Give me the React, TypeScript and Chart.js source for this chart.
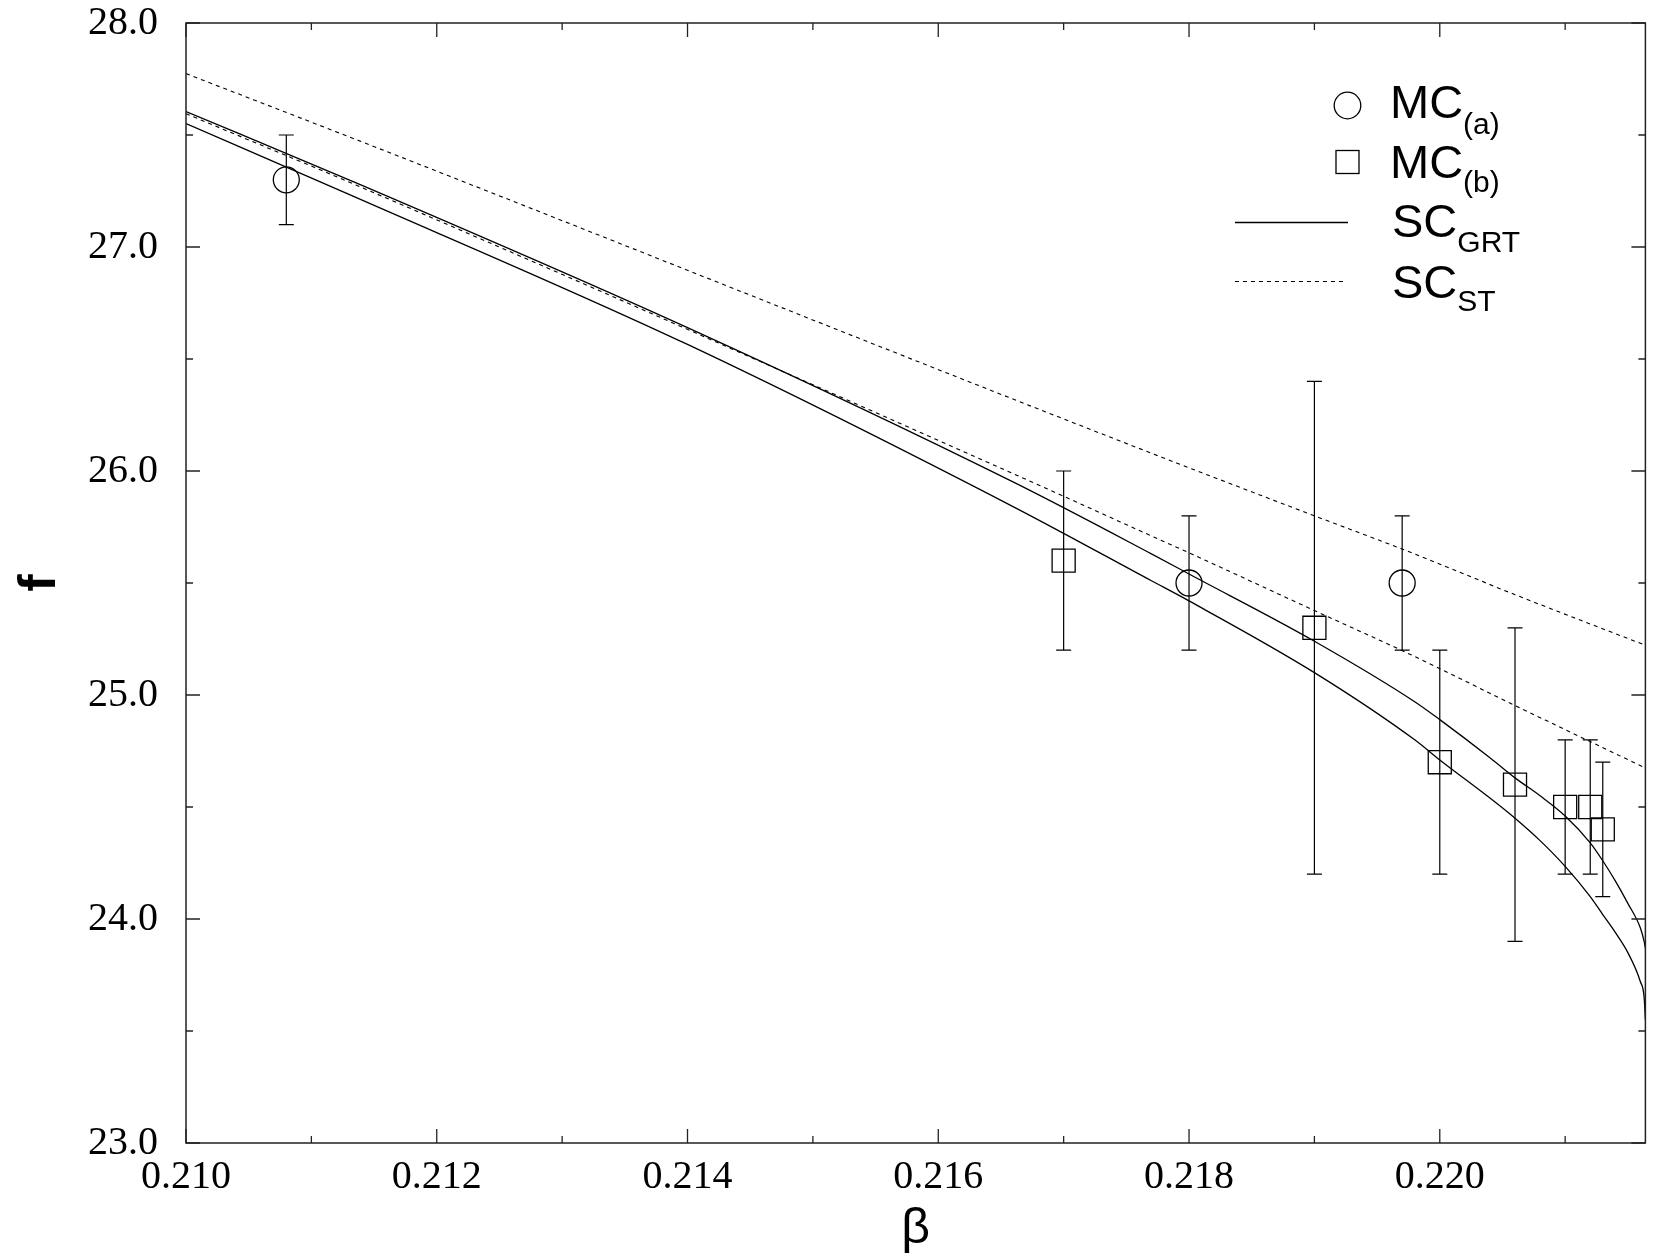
import React, { useEffect, useRef } from 'react';
import { Chart, registerables } from 'chart.js';

Chart.register(...registerables);

// ---- Data ----
const mcaBeta = [0.2108, 0.218, 0.2197];
const mcaF = [27.3, 25.5, 25.5];
const mcaErr = [0.2, 0.3, 0.3];

const mcbBeta = [0.217, 0.219, 0.22, 0.2206, 0.221, 0.2212, 0.2213];
const mcbF = [25.6, 25.3, 24.7, 24.6, 24.5, 24.5, 24.4];
const mcbErr = [0.4, 1.1, 0.5, 0.7, 0.3, 0.3, 0.3];

const grtUpperBeta = [0.21, 0.2113, 0.214, 0.2166, 0.2177, 0.218, 0.219, 0.2198, 0.22, 0.2204, 0.2206, 0.2208, 0.221, 0.2212, 0.2213, 0.2214, 0.2215, 0.2216, 0.22163, 0.22164];
const grtUpperF = [27.605, 27.3, 26.64, 25.95, 25.63, 25.54, 25.24, 24.97, 24.89, 24.72, 24.63, 24.55, 24.46, 24.34, 24.26, 24.17, 24.07, 23.96, 23.9, 23.87];

const grtLowerBeta = [0.21, 0.2113, 0.214, 0.2166, 0.2177, 0.218, 0.219, 0.2198, 0.22, 0.2204, 0.2206, 0.2208, 0.221, 0.2212, 0.2213, 0.2214, 0.2215, 0.2216, 0.22163, 0.22164];
const grtLowerF = [27.551, 27.235, 26.565, 25.84, 25.51, 25.42, 25.1, 24.8, 24.71, 24.54, 24.45, 24.35, 24.235, 24.1, 24.02, 23.94, 23.85, 23.72, 23.65, 23.55];

const stUpperBeta = [0.21, 0.21146, 0.21772, 0.219, 0.21978, 0.2206, 0.22164];
const stUpperF = [27.774, 27.457, 26.075, 25.8, 25.634, 25.448, 25.222];

const stLowerBeta = [0.21, 0.21035, 0.2113, 0.21661, 0.21772, 0.21803, 0.219, 0.21978, 0.2206, 0.22164];
const stLowerF = [27.595, 27.513, 27.29, 25.985, 25.705, 25.627, 25.377, 25.177, 24.953, 24.674];

const xMajorTicks = [0.21, 0.212, 0.214, 0.216, 0.218, 0.22];
const xMinorTicks = [0.211, 0.213, 0.215, 0.217, 0.219, 0.221];
const yMajorTicks = [23, 24, 25, 26, 27, 28];
const yMinorTicks = [23.5, 24.5, 25.5, 26.5, 27.5];

const xMin = 0.21;
const xMax = 0.22164;
const yMin = 23;
const yMax = 28;

const xTitle = 'β';
const yTitle = 'f';

const SANS = '"Liberation Sans", Arial, Helvetica, sans-serif';
const SERIF = '"Liberation Serif", "Times New Roman", Times, serif';

const pts = (xs: number[], ys: number[]) => xs.map((x, i) => ({ x, y: ys[i] }));

const zeroPad = (s: any) => {
  s.paddingTop = 0;
  s.paddingBottom = 0;
  s.paddingLeft = 0;
  s.paddingRight = 0;
};

const spacerAxis = (position: string, size: number) => ({
  type: 'linear',
  position,
  min: 0,
  max: 1,
  display: true,
  grid: { display: false, drawTicks: false },
  border: { display: false },
  ticks: { display: false },
  afterFit: (s: any) => {
    if (position === 'top' || position === 'bottom') s.height = size;
    else s.width = size;
    zeroPad(s);
  },
});

const decorPlugin = {
  id: 'decor',
  afterDatasetsDraw(chart: any) {
    const { ctx, scales } = chart;
    const x = scales.x;
    const y = scales.y;
    const bars: [number, number, number][] = [
      ...mcaBeta.map((b, i) => [b, mcaF[i], mcaErr[i]] as [number, number, number]),
      ...mcbBeta.map((b, i) => [b, mcbF[i], mcbErr[i]] as [number, number, number]),
    ];
    ctx.save();
    ctx.strokeStyle = '#000';
    ctx.lineWidth = 1.2;
    for (const [b, f, e] of bars) {
      const px = x.getPixelForValue(b);
      const t = y.getPixelForValue(f + e);
      const bt = y.getPixelForValue(f - e);
      ctx.beginPath();
      ctx.moveTo(px, t);
      ctx.lineTo(px, bt);
      ctx.moveTo(px - 7.5, t);
      ctx.lineTo(px + 7.5, t);
      ctx.moveTo(px - 7.5, bt);
      ctx.lineTo(px + 7.5, bt);
      ctx.stroke();
    }
    ctx.restore();
  },
  afterDraw(chart: any) {
    const { ctx, chartArea: a, scales } = chart;
    const x = scales.x;
    const y = scales.y;
    ctx.save();
    // frame
    ctx.strokeStyle = '#222';
    ctx.lineWidth = 1.5;
    ctx.strokeRect(a.left, a.top, a.right - a.left, a.bottom - a.top);
    // ticks (inward on all sides)
    ctx.lineWidth = 1.3;
    ctx.beginPath();
    const xt = (vals: number[], len: number) => {
      for (const v of vals) {
        const p = x.getPixelForValue(v);
        ctx.moveTo(p, a.bottom);
        ctx.lineTo(p, a.bottom - len);
        ctx.moveTo(p, a.top);
        ctx.lineTo(p, a.top + len);
      }
    };
    const yt = (vals: number[], len: number) => {
      for (const v of vals) {
        const p = y.getPixelForValue(v);
        ctx.moveTo(a.left, p);
        ctx.lineTo(a.left + len, p);
        ctx.moveTo(a.right, p);
        ctx.lineTo(a.right - len, p);
      }
    };
    xt(xMajorTicks, 14);
    xt(xMinorTicks, 7);
    yt(yMajorTicks, 14);
    yt(yMinorTicks, 7);
    ctx.stroke();

    // axis titles
    ctx.fillStyle = '#000';
    ctx.font = `50px ${SANS}`;
    ctx.textAlign = 'center';
    ctx.textBaseline = 'alphabetic';
    ctx.fillText(xTitle, (a.left + a.right) / 2, 1243);
    ctx.save();
    ctx.translate(55, (a.top + a.bottom) / 2);
    ctx.rotate(-Math.PI / 2);
    ctx.font = `bold 52px ${SANS}`;
    ctx.fillText(yTitle, 0, 0);
    ctx.restore();

    // legend
    ctx.strokeStyle = '#000';
    ctx.lineWidth = 1.3;
    ctx.beginPath();
    ctx.arc(1347.5, 105.5, 13.3, 0, Math.PI * 2);
    ctx.stroke();
    ctx.strokeRect(1336, 150.5, 23, 23);
    ctx.beginPath();
    ctx.moveTo(1235, 222.5);
    ctx.lineTo(1348, 222.5);
    ctx.stroke();
    ctx.setLineDash([4, 4]);
    ctx.lineWidth = 1.1;
    ctx.beginPath();
    ctx.moveTo(1235, 281.5);
    ctx.lineTo(1343, 281.5);
    ctx.stroke();
    ctx.setLineDash([]);

    const label = (main: string, sub: string, lx: number, base: number, subBase: number) => {
      ctx.textAlign = 'left';
      ctx.textBaseline = 'alphabetic';
      ctx.font = `47px ${SANS}`;
      ctx.fillText(main, lx, base);
      const w = ctx.measureText(main).width;
      ctx.font = `30px ${SANS}`;
      ctx.fillText(sub, lx + w, subBase);
    };
    label('MC', '(a)', 1390, 118, 133.5);
    label('MC', '(b)', 1390, 177.5, 192);
    label('SC', 'GRT', 1392, 237, 252);
    label('SC', 'ST', 1392, 297.5, 310.5);
    ctx.restore();
  },
};

export default function App() {
  const ref = useRef<HTMLCanvasElement | null>(null);
  useEffect(() => {
    if (!ref.current) return;
    const chart = new Chart(ref.current, {
      type: 'scatter',
      data: {
        datasets: [
          {
            label: 'SC_GRT upper',
            data: pts(grtUpperBeta, grtUpperF),
            showLine: true,
            borderColor: '#000',
            borderWidth: 1.3,
            pointRadius: 0,
            cubicInterpolationMode: 'monotone',
          },
          {
            label: 'SC_GRT lower',
            data: pts(grtLowerBeta, grtLowerF),
            showLine: true,
            borderColor: '#000',
            borderWidth: 1.3,
            pointRadius: 0,
            cubicInterpolationMode: 'monotone',
          },
          {
            label: 'SC_ST upper',
            data: pts(stUpperBeta, stUpperF),
            showLine: true,
            borderColor: '#000',
            borderWidth: 1.1,
            borderDash: [4, 4],
            pointRadius: 0,
            cubicInterpolationMode: 'monotone',
          },
          {
            label: 'SC_ST lower',
            data: pts(stLowerBeta, stLowerF),
            showLine: true,
            borderColor: '#000',
            borderWidth: 1.1,
            borderDash: [4, 4],
            pointRadius: 0,
            cubicInterpolationMode: 'monotone',
          },
          {
            label: 'MC(a)',
            data: pts(mcaBeta, mcaF),
            pointStyle: 'circle',
            pointRadius: 13,
            pointBorderWidth: 1.3,
            pointBorderColor: '#000',
            pointBackgroundColor: 'rgba(0,0,0,0)',
            showLine: false,
          },
          {
            label: 'MC(b)',
            data: pts(mcbBeta, mcbF),
            pointStyle: 'rect',
            pointRadius: 16.3,
            pointBorderWidth: 1.3,
            pointBorderColor: '#000',
            pointBackgroundColor: 'rgba(0,0,0,0)',
            showLine: false,
          },
        ],
      },
      options: {
        animation: false,
        responsive: false,
        devicePixelRatio: 1,
        layout: { padding: 0 },
        plugins: { legend: { display: false }, tooltip: { enabled: false } },
        scales: {
          x: {
            type: 'linear',
            position: 'bottom',
            min: xMin,
            max: xMax,
            afterBuildTicks: (s: any) => {
              s.ticks = xMajorTicks.map((v) => ({ value: v }));
            },
            afterFit: (s: any) => {
              s.height = 116;
              zeroPad(s);
            },
            grid: { display: false, drawTicks: false },
            border: { display: false },
            ticks: {
              autoSkip: false,
              maxRotation: 0,
              padding: 10,
              color: '#000',
              font: { family: SERIF, size: 40 },
              callback: (v: any) => Number(v).toFixed(3),
            },
          },
          y: {
            type: 'linear',
            position: 'left',
            min: yMin,
            max: yMax,
            afterBuildTicks: (s: any) => {
              s.ticks = yMajorTicks.map((v) => ({ value: v }));
            },
            afterFit: (s: any) => {
              s.width = 186;
              zeroPad(s);
            },
            grid: { display: false, drawTicks: false },
            border: { display: false },
            ticks: {
              autoSkip: false,
              padding: 28,
              color: '#000',
              font: { family: SERIF, size: 40 },
              callback: (v: any) => Number(v).toFixed(1),
            },
          },
          xTopSpacer: spacerAxis('top', 23),
          yRightSpacer: spacerAxis('right', 8),
        },
      },
      plugins: [decorPlugin],
    } as any);
    return () => chart.destroy();
  }, []);

  return (
    <div style={{ position: 'absolute', left: 0, top: 0, width: 1663, height: 1259, background: '#fff' }}>
      <canvas ref={ref} width={1663} height={1259} style={{ width: 1663, height: 1259, display: 'block' }} />
    </div>
  );
}
